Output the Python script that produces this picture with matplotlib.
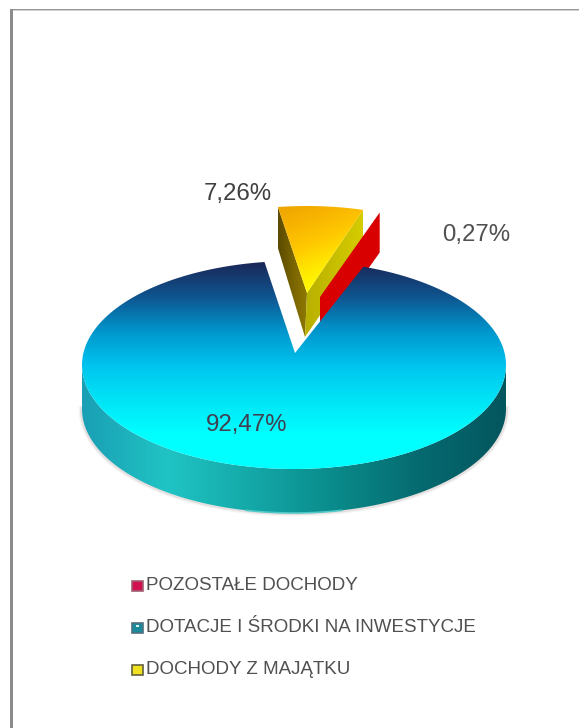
import numpy as np
import matplotlib
matplotlib.use("Agg")
import matplotlib.pyplot as plt
from matplotlib.colors import LinearSegmentedColormap
from matplotlib.patches import Polygon, Rectangle

plt.rcParams['font.family'] = ['Liberation Sans', 'DejaVu Sans']

# values as printed on the chart
names = ['POZOSTAŁE DOCHODY', 'DOTACJE I ŚRODKI NA INWESTYCJE', 'DOCHODY Z MAJĄTKU']
shares = [0.27, 92.47, 7.26]
labels = ['0,27%', '92,47%', '7,26%']

rest, grants, assets = shares
start = -8.0
assets_end = start + assets * 3.6
rest_end = assets_end + rest * 3.6


def rim(cx, cy, rx, ry, a0, a1, n=200):
    t = np.radians(np.linspace(a0, a1, n))
    return np.column_stack([cx + rx * np.sin(t), cy - ry * np.cos(t)])


def fill(ax, pts, stops, horizontal=False, z=2, diag=None):
    pts = np.asarray(pts)
    x0, y0 = pts.min(axis=0)
    x1, y1 = pts.max(axis=0)
    cmap = LinearSegmentedColormap.from_list('g', stops)
    xx, yy = np.meshgrid(np.linspace(0, 1, 300), np.linspace(0, 1, 300))
    if diag:
        grad = np.clip(diag[0] * xx + diag[1] * yy, 0, 1)
    elif horizontal:
        grad = xx
    else:
        grad = yy
    im = ax.imshow(grad, extent=(x0, x1, y1, y0), cmap=cmap, vmin=0, vmax=1,
                   aspect='auto', zorder=z, interpolation='bilinear')
    poly = Polygon(pts, closed=True, fc='none', ec='none', transform=ax.transData)
    ax.add_patch(poly)
    im.set_clip_path(poly)


fig = plt.figure(figsize=(5.79, 7.28), dpi=100)
ax = fig.add_axes([0, 0, 1, 1])

# frame of the picture, only top and left show
ax.add_patch(Rectangle((10, 9), 569, 1.3, fc='#999999', ec='none'))
ax.add_patch(Rectangle((10, 10.3), 569, 1, fc='#d0d0d0', ec='none'))
ax.add_patch(Rectangle((10, 9), 2.6, 719, fc='#8c8c8c', ec='none'))

# exploded yellow slice
ya = (307, 293)
yrx, yry, d = 190, 87, 43
y_rim = rim(ya[0], ya[1], yrx, yry, start - 0.8, assets_end - 0.8 - 0.2)
left = y_rim[0]
right = y_rim[-1]
fill(ax, [ya, left, left + [0, d - 2], (ya[0] - 2, ya[1] + d + 1)],
     ['#5c4a00', '#7a6400', '#8f7a00'], horizontal=True, z=2)
fill(ax, [ya, right, right + [0, d], (ya[0] - 2, ya[1] + d + 1)],
     ['#b8b000', '#d6cc00'], horizontal=True, z=2)
fill(ax, np.vstack([[ya], y_rim]), ['#eda400', '#f8b400', '#ffc800', '#ffe800', '#ffff00'],
     z=3, diag=(0.35, 0.85))

# thin red slice behind, its cut face is what shows
ra = (320, 297)
r_rim = rim(ra[0], ra[1], 190, 89, assets_end - 0.8, rest_end - 0.8, 10)
r_tip = r_rim[-1]
ax.add_patch(Polygon([ra, r_tip, r_tip + [0, 40], (ra[0], ra[1] + 40)],
                     fc='#d80000', ec='none', zorder=4))

# large blue slice
cx, cy, rx, ry, depth = 294, 365, 212, 104, 44
low = rim(cx, cy, rx, ry, 90, 270)
band = np.vstack([low, (low + [0, depth])[::-1]])
for w, a in [(5, 0.06), (3, 0.12)]:
    ax.plot(*(low + [0, depth]).T, color='#705050', lw=w, alpha=a, zorder=4)
fill(ax, band, ['#04565e', '#056a70', '#0a8a8a', '#14a8a8', '#20c4c4', '#1a9fb5'][::-1],
     horizontal=True, z=5)
# pale sliver along the bottom edge
sliver = rim(cx, cy + depth, rx, ry, 167, 193, 40)
ax.plot(*sliver.T, color='#50c8c8', lw=1.2, zorder=5.5)
top = np.vstack([[(295, 353)], rim(cx, cy, rx, ry, rest_end, start + 360)])
fill(ax, top, ['#1a2858', '#0f5590', '#0096cc', '#00c4ee', '#00e4f6', '#00ffff', '#00ffff'], z=6)

# slice labels
ax.text(238, 194, labels[2], fontsize=17.3, color='#404040', ha='center', va='center', zorder=8)
ax.text(476, 235, labels[0], fontsize=17.3, color='#505050', ha='center', va='center', zorder=8)
ax.text(247, 425, labels[1], fontsize=17.3, color='#404050', ha='center', va='center', zorder=8)

# legend
swatches = ['#d01050', '#1a8a9a', '#f0e020']
edges = ['#a06070', '#507080', '#606040']
for i, name in enumerate(names):
    yy = 585 + 42 * i
    ax.add_patch(Rectangle((132, yy - 4.5), 10.5, 10.5, fc=swatches[i], ec=edges[i], lw=1.2, zorder=8))
    if i == 1:
        ax.add_patch(Rectangle((135.5, yy - 2.5), 3.5, 2, fc='#d8f0f0', ec='none', zorder=9))
    ax.text(146, yy, name, fontsize=13.5, color='#505050', ha='left', va='center', zorder=8)

ax.set_xlim(0, 579)
ax.set_ylim(728, 0)
ax.axis('off')
fig.savefig('out.png', dpi=100)
